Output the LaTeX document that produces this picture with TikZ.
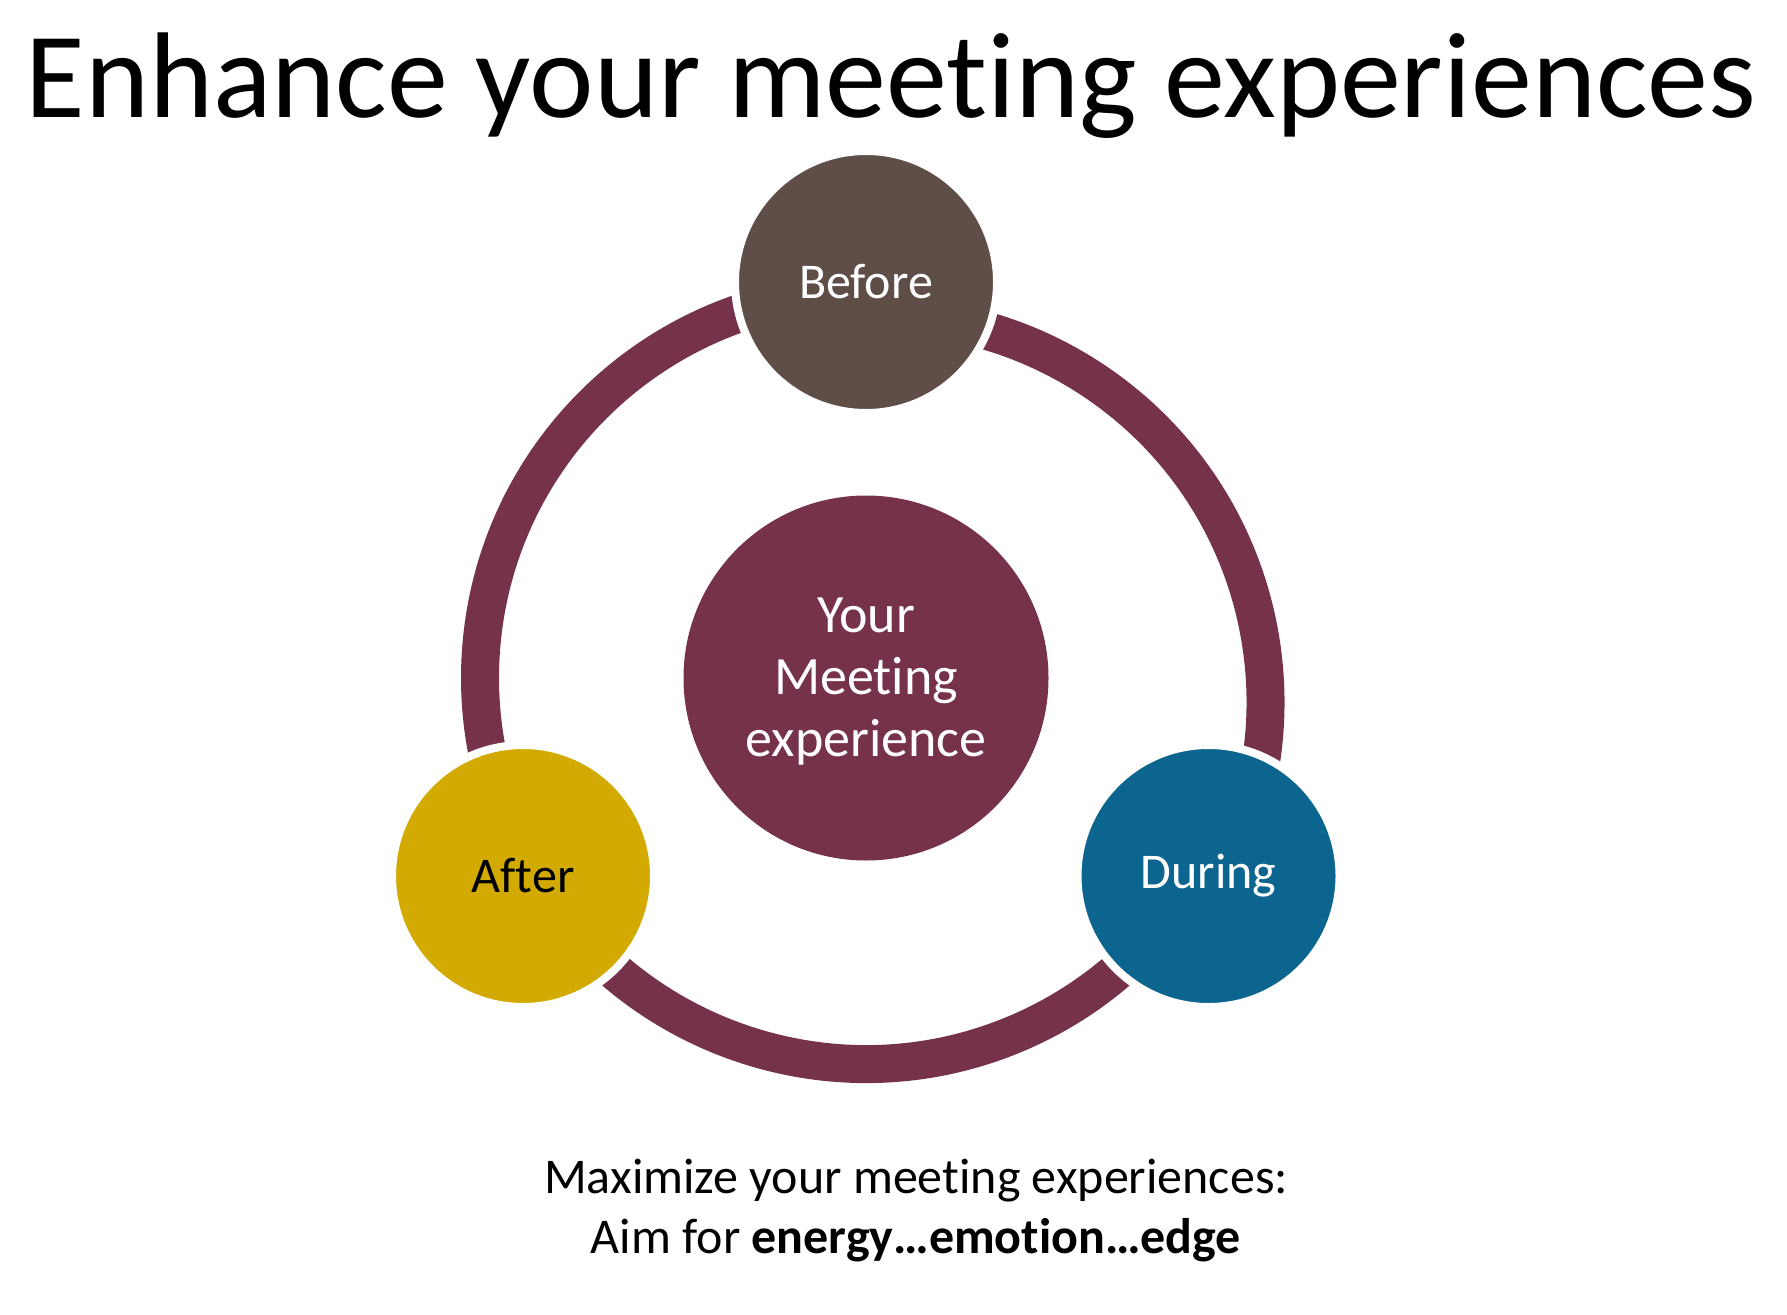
\documentclass[tikz,border=0pt]{standalone}
\usepackage{fontspec}
\setmainfont{Carlito}[Ligatures=NoCommon]
\usetikzlibrary{calc}
\definecolor{ringc}{HTML}{77324B}
\definecolor{beforec}{HTML}{5F4D48}
\definecolor{duringc}{HTML}{0B658F}
\definecolor{afterc}{HTML}{D2AA02}
\tikzset{
  ringarc/.style={draw=ringc, line width=38pt, line cap=butt},
  stage/.style={circle, minimum size=262pt, inner sep=0pt, draw=white, line width=8pt,
    font=\fontsize{50}{60}\selectfont},
  core/.style={circle, minimum size=365pt, inner sep=0pt, fill=ringc},
  coretext/.style={text=white, align=center, inner sep=0pt, font=\fontsize{54}{62}\selectfont},
  caption/.style={anchor=base, font=\fontsize{50}{60}\selectfont}
}
\begin{document}
\begin{tikzpicture}[x=1pt,y=1pt]
\path[use as bounding box] (0,0) rectangle (1787,-1314);
\coordinate (c) at (866,-678);
\coordinate (c2) at (879,-702);
% ring segments
\draw[ringarc] ($(c)+(85:386)$) arc[start angle=85, end angle=215, radius=386];
\draw[ringarc] ($(c)+(205:386)$) arc[start angle=205, end angle=335, radius=386];
\draw[ringarc] ($(c2)+(-35:386.5)$) arc[start angle=-35, end angle=97, radius=386.5];
% nodes
\node[stage, fill=beforec, text=white] (before) at (866,-282) {Before};
\node[stage, fill=duringc, text=white] (during) at (1208.5,-876) {During};
\node[stage, fill=afterc, text=black] (after) at (523,-876) {After};
\node[core] (core) at (c) {};
\node[coretext] (coretxt) at (866,-682) {Your\\Meeting\\experience};
% texts
\node[anchor=base, font=\fontsize{122}{146}\selectfont] (title) at (891,-117) {Enhance your meeting experiences};
\node[caption] (cap1) at (916,-1193) {Maximize your meeting experiences:};
\node[caption] (cap2) at (916,-1253) {Aim for \textbf{energy…emotion…edge}};
\end{tikzpicture}
\end{document}
